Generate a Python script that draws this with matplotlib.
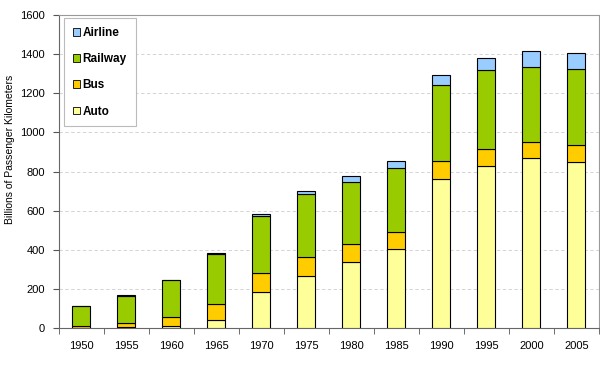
import matplotlib

matplotlib.use("Agg")
import matplotlib.pyplot as plt
import numpy as np
from matplotlib.patches import Patch

years = ["1950", "1955", "1960", "1965", "1970", "1975",
         "1980", "1985", "1990", "1995", "2000", "2005"]
auto = [3, 8, 10, 41, 184, 265, 340, 403, 760, 828, 867, 848]
bus = [7, 19, 49, 83, 100, 97, 89, 87, 92, 88, 82, 86]
railway = [104, 139, 187, 257, 289, 322, 317, 326, 388, 402, 388, 388]
airline = [0, 2, 2, 3, 9, 18, 29, 36, 52, 64, 79, 86]

series = [
    ("Auto", auto, "#FFFF99"),
    ("Bus", bus, "#FFCC00"),
    ("Railway", railway, "#99CC00"),
    ("Airline", airline, "#99CCFF"),
]

plt.rcParams["font.family"] = ["Liberation Sans Narrow", "Liberation Sans", "DejaVu Sans"]

fig = plt.figure(figsize=(6, 3.67), dpi=100)
ax = fig.add_axes([0.098, 0.106, 0.9, 0.853])

x = np.arange(len(years))
bottom = np.zeros(len(years))
for name, vals, color in series:
    vals = np.asarray(vals, dtype=float)
    ax.bar(x, vals, bottom=bottom, width=0.4, color=color,
           edgecolor="black", linewidth=0.8, zorder=3)
    bottom += vals

ax.set_xlim(-0.5, len(years) - 0.5)
ax.set_ylim(0, 1600)
ax.set_yticks(np.arange(0, 1601, 200))
ax.set_xticks(x)
ax.set_xticklabels(years, fontsize=8)
ax.tick_params(axis="x", length=0, pad=9)
ax.set_xticks(np.arange(-0.5, len(years), 1), minor=True)
ax.tick_params(axis="x", which="minor", length=4, direction="out", color="#555555")
ax.tick_params(axis="y", length=4, direction="out", color="#555555", labelsize=8, pad=6)

ax.grid(axis="y", color="#cccccc", linestyle=(0, (4, 3)), linewidth=0.6, zorder=0)

for side in ["top", "right"]:
    ax.spines[side].set_color("#999999")
    ax.spines[side].set_linewidth(0.8)
for side in ["left", "bottom"]:
    ax.spines[side].set_color("#666666")
    ax.spines[side].set_linewidth(0.8)

ax.set_ylabel("Billions of Passenger Kilometers", fontsize=7.5)
ax.yaxis.set_label_coords(-0.082, 0.57)

handles = [Patch(facecolor=c, edgecolor="black", linewidth=0.6, label=n)
           for n, _, c in reversed(series)]
leg = ax.legend(handles=handles, loc="upper left", bbox_to_anchor=(0.009, 0.99),
                prop={"weight": "bold", "size": 8.5},
                handlelength=0.6, handleheight=0.6, handletextpad=0.25,
                labelspacing=1.2, borderpad=0.75, borderaxespad=0.0,
                fancybox=False, edgecolor="#bbbbbb", framealpha=1)
leg.get_frame().set_linewidth(0.8)

fig.savefig("out.png", dpi=100)
